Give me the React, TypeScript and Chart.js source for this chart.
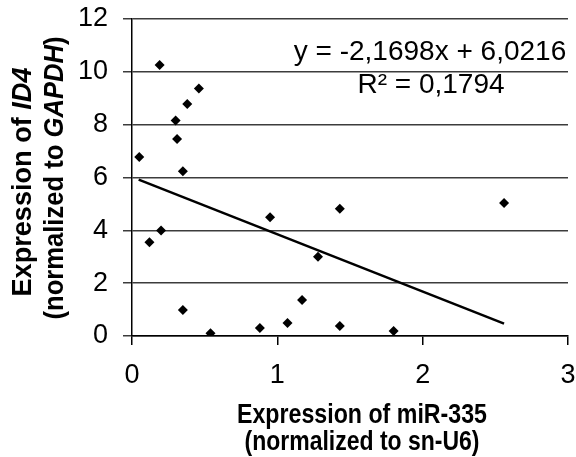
import React, { useEffect, useRef } from "react";
import { Chart, registerables } from "chart.js";

Chart.register(...registerables);

// miR-335 expression (x) vs ID4 expression (y)
const xValues = [0.05, 0.12, 0.19, 0.2, 0.3, 0.31, 0.35, 0.35, 0.38, 0.46, 0.54, 0.88, 0.95, 1.07, 1.17, 1.28, 1.43, 1.43, 1.8, 2.56];
const yValues = [6.78, 3.55, 10.26, 3.99, 8.16, 7.46, 6.24, 0.98, 8.78, 9.37, 0.1, 0.3, 4.5, 0.49, 1.36, 3.0, 4.82, 0.38, 0.19, 5.03];

const trendSlope = -2.1698;
const trendIntercept = 6.0216;
const trendXRange = [0.046, 2.56];
const equationLines = ["y = -2,1698x + 6,0216", "R² = 0,1794"];

const xTitleLines = [
  [{ text: "Expression of miR-335", italic: false }],
  [{ text: "(normalized to sn-U6)", italic: false }],
];
const yTitleLines = [
  [
    { text: "Expression of ", italic: false },
    { text: "ID4", italic: true },
  ],
  [
    { text: "(normalized to ", italic: false },
    { text: "GAPDH", italic: true },
    { text: ")", italic: false },
  ],
];

const FONT = "'Liberation Sans', Arial, sans-serif";

type Part = { text: string; italic: boolean };

function drawParts(
  ctx: CanvasRenderingContext2D,
  parts: Part[],
  cx: number,
  cy: number,
  size: number,
  targetWidth: number,
  rotate: boolean
) {
  ctx.save();
  const fontOf = (p: Part) => `${p.italic ? "italic " : ""}bold ${size}px ${FONT}`;
  let total = 0;
  const widths = parts.map((p) => {
    ctx.font = fontOf(p);
    const w = ctx.measureText(p.text).width;
    total += w;
    return w;
  });
  const sx = targetWidth / total;
  ctx.translate(cx, cy);
  if (rotate) ctx.rotate(-Math.PI / 2);
  ctx.scale(sx, 1);
  ctx.fillStyle = "#000";
  ctx.textBaseline = "middle";
  ctx.textAlign = "left";
  let x = -total / 2;
  parts.forEach((p, i) => {
    ctx.font = fontOf(p);
    ctx.fillText(p.text, x, 0);
    x += widths[i];
  });
  ctx.restore();
}

const textPlugin = {
  id: "textPlugin",
  afterDraw(chart: any) {
    const ctx = chart.ctx as CanvasRenderingContext2D;
    ctx.save();
    ctx.fillStyle = "#000";
    ctx.font = `28px ${FONT}`;
    ctx.textAlign = "center";
    ctx.textBaseline = "middle";
    ctx.fillText(equationLines[0], 430, 52);
    ctx.fillText(equationLines[1], 431, 85);
    ctx.restore();
    drawParts(ctx, xTitleLines[0], 362, 415, 28, 250, false);
    drawParts(ctx, xTitleLines[1], 362, 442, 28, 235, false);
    drawParts(ctx, yTitleLines[0], 23, 182, 28, 229, true);
    drawParts(ctx, yTitleLines[1], 55, 178, 28, 283, true);
  },
};

export default function App() {
  const ref = useRef<HTMLCanvasElement>(null);
  useEffect(() => {
    if (!ref.current) return;
    const points = xValues.map((x, i) => ({ x, y: yValues[i] }));
    const trend = trendXRange.map((x) => ({ x, y: trendSlope * x + trendIntercept }));
    const chart = new Chart(ref.current, {
      type: "scatter",
      data: {
        datasets: [
          {
            data: points,
            pointStyle: "rectRot",
            pointRadius: 5,
            backgroundColor: "#000",
            borderColor: "#000",
            borderWidth: 0,
          },
          {
            type: "line",
            data: trend,
            borderColor: "#000",
            borderWidth: 2.5,
            pointRadius: 0,
            showLine: true,
            fill: false,
          } as any,
        ],
      },
      options: {
        responsive: false,
        animation: false,
        layout: { padding: { top: 19, right: 8, left: 0, bottom: 0 } },
        plugins: { legend: { display: false }, tooltip: { enabled: false } },
        scales: {
          x: {
            type: "linear",
            min: 0,
            max: 3,
            ticks: { stepSize: 1, color: "#000", font: { family: FONT, size: 27 }, padding: 14 },
            grid: { drawOnChartArea: false, drawTicks: true, tickLength: 9, color: "#000", lineWidth: 1.5 },
            border: { display: true, color: "#000", width: 1.5 },
            afterFit: (scale: any) => {
              scale.height = 121;
              scale.paddingLeft = 0;
              scale.paddingRight = 0;
            },
          },
          y: {
            type: "linear",
            min: 0,
            max: 12,
            ticks: { stepSize: 2, color: "#000", font: { family: FONT, size: 27 }, padding: 15 },
            grid: { color: "#3c3c3c", lineWidth: 1.5, tickLength: 9, drawTicks: true },
            border: { display: true, color: "#000", width: 1.5 },
            afterFit: (scale: any) => {
              scale.width = 132;
              scale.paddingTop = 0;
              scale.paddingBottom = 0;
            },
          },
        },
      },
      plugins: [textPlugin],
    });
    return () => chart.destroy();
  }, []);
  return (
    <div style={{ position: "fixed", left: 0, top: 0, width: 576, height: 457, background: "#fff" }}>
      <canvas ref={ref} width={576} height={457} />
    </div>
  );
}
